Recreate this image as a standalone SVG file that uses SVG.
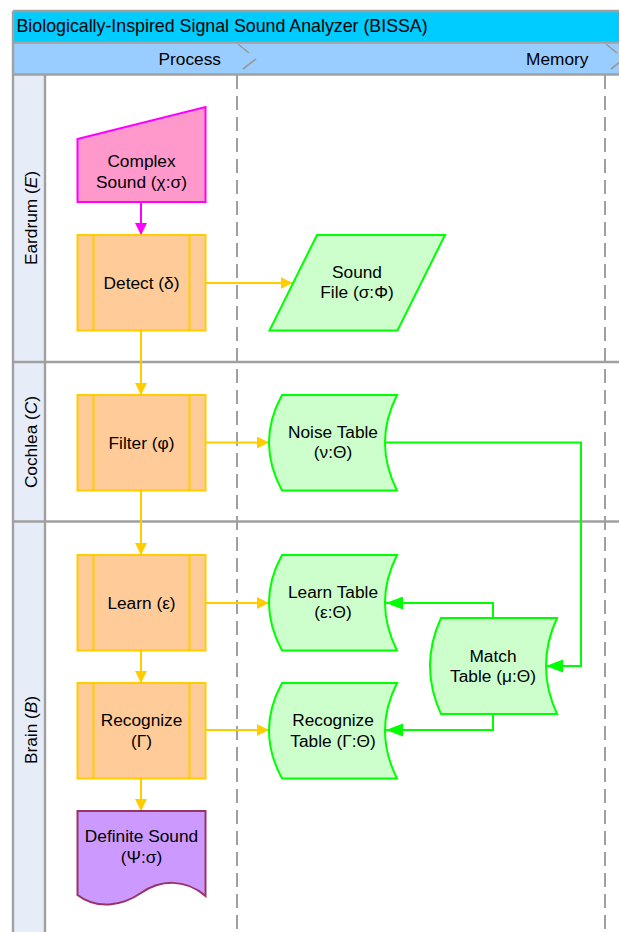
<svg xmlns="http://www.w3.org/2000/svg" width="619" height="932" viewBox="0 0 619 932">
<style>
text{font-family:"Liberation Sans",Arial,sans-serif;font-size:17.3px;fill:#000;}
.c{text-anchor:middle;}
.frame{stroke:#A0A0A0;stroke-width:2.4;fill:none;}
.dash{stroke:#A0A0A0;stroke-width:2;stroke-dasharray:14 7;fill:none;}
.chev{stroke:#999;stroke-width:1.6;fill:none;}
.proc{fill:#FFCC99;stroke:#FFCC00;stroke-width:2;}
.data{fill:#CCFFCC;stroke:#00FF00;stroke-width:2;}
.gold{stroke:#FFCC00;stroke-width:2;fill:none;marker-end:url(#ag);}
.green{stroke:#00FF00;stroke-width:2;fill:none;marker-end:url(#agr);}
.mag{stroke:#FF00FF;stroke-width:2;fill:none;marker-end:url(#am);}
</style>
<defs>
<marker id="ag" markerUnits="userSpaceOnUse" viewBox="0 0 12 12" refX="12" refY="6" markerWidth="12" markerHeight="12" orient="auto"><path d="M0,0 L12,6 L0,12 Z" fill="#FFCC00"/></marker>
<marker id="am" markerUnits="userSpaceOnUse" viewBox="0 0 12 12" refX="12" refY="6" markerWidth="12" markerHeight="12" orient="auto"><path d="M0,0 L12,6 L0,12 Z" fill="#FF00FF"/></marker>
<marker id="agr" markerUnits="userSpaceOnUse" viewBox="0 0 17 13" refX="17" refY="6.5" markerWidth="17" markerHeight="13" orient="auto"><path d="M0,0 L17,6.5 L0,13 Z" fill="#00FF00"/></marker>
</defs>
<rect width="619" height="932" fill="#fff"/>
<g id="pool">
<rect x="13" y="11" width="610" height="31.5" fill="#00CCFF"/>
<rect x="13" y="42.5" width="610" height="32" fill="#99CCFF"/>
<rect x="13" y="74.5" width="32" height="870" fill="#E6EDF8"/>
<line class="frame" x1="13" y1="11" x2="619" y2="11"/>
<line class="frame" x1="13" y1="42.5" x2="619" y2="42.5"/>
<line class="frame" x1="13" y1="74.5" x2="619" y2="74.5"/>
<line class="frame" x1="13" y1="11" x2="13" y2="932"/>
<line class="frame" x1="45" y1="74.5" x2="45" y2="932"/>
<line class="frame" x1="13" y1="362" x2="619" y2="362"/>
<line class="frame" x1="13" y1="521.5" x2="619" y2="521.5"/>
<line class="dash" x1="237" y1="75" x2="237" y2="932"/>
<line class="dash" x1="605" y1="75" x2="605" y2="932"/>
<path class="chev" d="M238,44 L249,53 M256,59 L243,69"/>
<path class="chev" d="M606,44 L617,53 M624,59 L611,69"/>
<text x="16.5" y="31.7" style="font-size:17.8px">Biologically-Inspired Signal Sound Analyzer (BISSA)</text>
<text x="221" y="64.5" text-anchor="end">Process</text>
<text x="588.5" y="64.5" text-anchor="end">Memory</text>
<text class="c" transform="translate(36.5,218) rotate(-90)">Eardrum (<tspan font-style="italic">E</tspan>)</text>
<text class="c" transform="translate(36.5,442) rotate(-90)">Cochlea (<tspan font-style="italic">C</tspan>)</text>
<text class="c" transform="translate(36.5,730) rotate(-90)">Brain (<tspan font-style="italic">B</tspan>)</text>
</g>
<g id="connectors">
<line class="mag" x1="141" y1="202" x2="141" y2="235"/>
<line class="gold" x1="206" y1="283" x2="292.5" y2="283"/>
<line class="gold" x1="141" y1="331" x2="141" y2="395"/>
<line class="gold" x1="206" y1="442.5" x2="269" y2="442.5"/>
<line class="gold" x1="141" y1="491" x2="141" y2="555"/>
<line class="gold" x1="206" y1="603" x2="269" y2="603"/>
<line class="gold" x1="141" y1="651" x2="141" y2="683"/>
<line class="gold" x1="206" y1="730" x2="269" y2="730"/>
<line class="gold" x1="141" y1="779" x2="141" y2="811"/>
<path class="green" d="M385,442.5 L581,442.5 L581,666 L546,666"/>
<path class="green" d="M493,618 L493,603 L386,603"/>
<path class="green" d="M493,714 L493,730 L386,730"/>
</g>
<g id="complex-sound">
<path d="M77.5,139 L205.5,107 L205.5,202 L77.5,202 Z" fill="#FF99CC" stroke="#FF00FF" stroke-width="2"/>
<text class="c" x="141.5" y="166.7">Complex</text>
<text class="c" x="141.5" y="187.5">Sound (χ:σ)</text>
</g>
<g id="detect">
<rect class="proc" x="77.5" y="235" width="128" height="95.5"/>
<path class="proc" d="M93.5,235 V330.5 M189.5,235 V330.5"/>
<text class="c" x="141.5" y="289">Detect (δ)</text>
</g>
<g id="sound-file">
<path class="data" d="M317,235 L445,235 L397.5,330.5 L269.5,330.5 Z"/>
<text class="c" x="357" y="277.5">Sound</text>
<text class="c" x="357" y="298.3">File (σ:Φ)</text>
</g>
<g id="filter">
<rect class="proc" x="77.5" y="395" width="128" height="95.5"/>
<path class="proc" d="M93.5,395 V490.5 M189.5,395 V490.5"/>
<text class="c" x="141.5" y="448.5">Filter (φ)</text>
</g>
<g id="noise-table">
<path class="data" d="M282,395 L397,395 Q373,442.5 397,490.5 L282,490.5 Q256,442.5 282,395 Z"/>
<text class="c" x="333" y="437.5">Noise Table</text>
<text class="c" x="333" y="458.3">(ν:Θ)</text>
</g>
<g id="learn">
<rect class="proc" x="77.5" y="555" width="128" height="95.5"/>
<path class="proc" d="M93.5,555 V650.5 M189.5,555 V650.5"/>
<text class="c" x="141.5" y="609">Learn (ε)</text>
</g>
<g id="learn-table">
<path class="data" d="M282,555 L397,555 Q373,602.5 397,650.5 L282,650.5 Q256,602.5 282,555 Z"/>
<text class="c" x="333" y="597.5">Learn Table</text>
<text class="c" x="333" y="618.3">(ε:Θ)</text>
</g>
<g id="match-table">
<path class="data" d="M441,618 L557,618 Q535,666 557,714 L441,714 Q419,666 441,618 Z"/>
<text class="c" x="493" y="661.5">Match</text>
<text class="c" x="493" y="682.3">Table (μ:Θ)</text>
</g>
<g id="recognize">
<rect class="proc" x="77.5" y="683" width="128" height="95.5"/>
<path class="proc" d="M93.5,683 V778.5 M189.5,683 V778.5"/>
<text class="c" x="141.5" y="726">Recognize</text>
<text class="c" x="141.5" y="746.8">(Γ)</text>
</g>
<g id="recognize-table">
<path class="data" d="M282,683 L397,683 Q373,730.5 397,778.5 L282,778.5 Q256,730.5 282,683 Z"/>
<text class="c" x="333" y="726">Recognize</text>
<text class="c" x="333" y="746.8">Table (Γ:Θ)</text>
</g>
<g id="definite-sound">
<path d="M77.5,811 L205.5,811 L205.5,896 C185,878 160,880 141,893 C122,906 97,910 77.5,895 Z" fill="#CC99FF" stroke="#993366" stroke-width="2"/>
<text class="c" x="141.5" y="842">Definite Sound</text>
<text class="c" x="141.5" y="862.8">(Ψ:σ)</text>
</g>
</svg>
